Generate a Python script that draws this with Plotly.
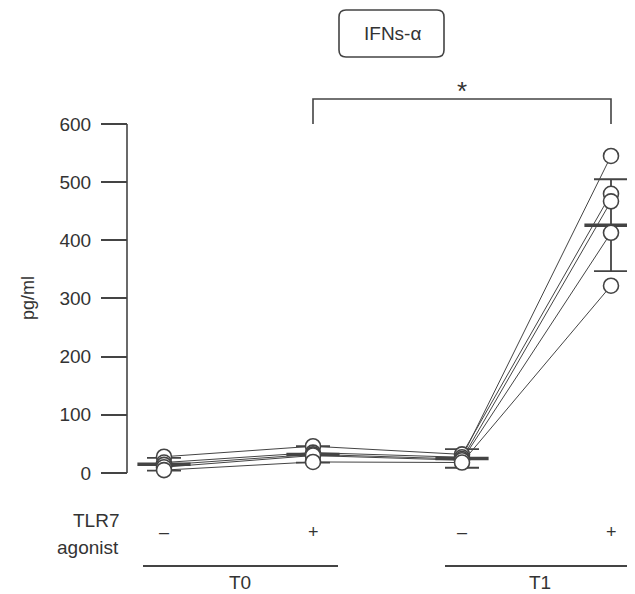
import plotly.graph_objects as go

# ---------------- data ----------------
conditions = ["T0 –", "T0 +", "T1 –", "T1 +"]
x_pos = [0, 1, 2, 3]
donor_1 = [28, 46, 32, 480]
donor_2 = [18, 35, 27, 545]
donor_3 = [14, 32, 24, 467]
donor_4 = [10, 30, 22, 413]
donor_5 = [5, 19, 18, 322]
donors = [donor_1, donor_2, donor_3, donor_4, donor_5]
mean_vals = [15, 32, 25, 426]
sd_vals = [11, 14, 16, 79]
y_ticks = [0, 100, 200, 300, 400, 500, 600]
agonist_signs = ["–", "+", "–", "+"]
time_labels = ["T0", "T1"]
title_text = "IFNs-α"
y_title = "pg/ml"

# ---------------- geometry helpers (page pixels) ----------------
PAGE_W, PAGE_H = 635, 594
OFF = 8                                   # browser body margin
W, H = PAGE_W - OFF, PAGE_H - OFF
X0PX, XSTEP = 164.0 - OFF, 149.0          # figure pixel of x=0, px per category
Y0PX, YSCALE = 473.0 - OFF, 0.5817        # figure pixel of y=0, px per unit

def px(xp):  # page pixel x -> paper
    return (xp - OFF) / W

def py(yp):  # page pixel y -> paper
    return (H - (yp - OFF)) / H

INK = "#444444"
TXT = "#333333"
FONT = "Liberation Sans, Arial, Helvetica, sans-serif"
FS = 19

fig = go.Figure()

# donor lines
for d in donors:
    fig.add_trace(go.Scatter(x=x_pos, y=d, mode="lines",
                             line=dict(color=INK, width=1),
                             hoverinfo="skip", showlegend=False))

# SD error bars
fig.add_trace(go.Scatter(x=x_pos, y=mean_vals, mode="markers",
                         marker=dict(size=1, opacity=0),
                         error_y=dict(type="data", array=sd_vals, visible=True,
                                      color=INK, thickness=1.8, width=17),
                         hoverinfo="skip", showlegend=False))

# mean bars
fig.add_trace(go.Scatter(x=x_pos, y=mean_vals, mode="markers",
                         marker=dict(symbol="line-ew", size=38,
                                     line=dict(color=INK, width=3.5)),
                         hoverinfo="skip", showlegend=False))

# donor points
xs, ys = [], []
for d in donors:
    xs += x_pos
    ys += d
fig.add_trace(go.Scatter(x=xs, y=ys, mode="markers",
                         marker=dict(symbol="circle", size=15, color="white",
                                     line=dict(color=INK, width=1.6)),
                         cliponaxis=False, hoverinfo="skip", showlegend=False))

shapes = []
annotations = []


def label(x, y, text, size=FS, xref="paper", xanchor="center", angle=0):
    annotations.append(dict(xref=xref, yref="paper", x=x, y=y, text=text,
                            xanchor=xanchor, yanchor="middle",
                            textangle=angle, showarrow=False,
                            font=dict(size=size, color=TXT, family=FONT)))


# y axis line (0..600)
shapes.append(dict(type="line", xref="paper", yref="y",
                   x0=px(127), x1=px(127), y0=y_ticks[0], y1=y_ticks[-1],
                   line=dict(color=INK, width=1.6)))

# title box with rounded corners
bx0, bx1, by0, by1, r = 339, 444, 10, 57, 7
path = (f"M {px(bx0+r)},{py(by0)} L {px(bx1-r)},{py(by0)} "
        f"Q {px(bx1)},{py(by0)} {px(bx1)},{py(by0+r)} "
        f"L {px(bx1)},{py(by1-r)} Q {px(bx1)},{py(by1)} {px(bx1-r)},{py(by1)} "
        f"L {px(bx0+r)},{py(by1)} Q {px(bx0)},{py(by1)} {px(bx0)},{py(by1-r)} "
        f"L {px(bx0)},{py(by0+r)} Q {px(bx0)},{py(by0)} {px(bx0+r)},{py(by0)} Z")
shapes.append(dict(type="path", xref="paper", yref="paper", path=path,
                   line=dict(color=INK, width=1.6)))
label(px(392), py(34), title_text)

# significance bracket
brk = (f"M {px(313)},{py(124)} L {px(313)},{py(99)} "
       f"L {px(611)},{py(99)} L {px(611)},{py(124)}")
shapes.append(dict(type="path", xref="paper", yref="paper", path=brk,
                   line=dict(color=INK, width=1.6)))
label(px(462), py(91), "*", size=26)

# y title
label(px(28), py(298), y_title, size=18, angle=-90)

# agonist row
label(px(121), py(520), "TLR7", xanchor="right")
label(px(121), py(547), "agonist", xanchor="right")
for xv, s in zip(x_pos, agonist_signs):
    label(xv, py(532), s, size=18, xref="x")

# time group lines + labels
shapes.append(dict(type="line", xref="paper", yref="paper",
                   x0=px(143), x1=px(338), y0=py(566), y1=py(566),
                   line=dict(color=INK, width=2)))
shapes.append(dict(type="line", xref="paper", yref="paper",
                   x0=px(445), x1=px(635), y0=py(566), y1=py(566),
                   line=dict(color=INK, width=2)))
label(px(240), py(582), time_labels[0])
label(px(540), py(582), time_labels[1])

fig.update_layout(
    width=W, height=H, autosize=False,
    margin=dict(l=0, r=0, t=0, b=0, pad=0),
    paper_bgcolor="white", plot_bgcolor="white",
    font=dict(family=FONT, color=TXT, size=FS),
    xaxis=dict(visible=False, range=[-X0PX / XSTEP, (W - X0PX) / XSTEP],
               fixedrange=True),
    yaxis=dict(range=[(Y0PX - H) / YSCALE, Y0PX / YSCALE],
               anchor="free", position=(127 - OFF) / W, side="left",
               showline=False, showgrid=False, zeroline=False,
               tickvals=y_ticks, ticks="outside", ticklen=26,
               tickwidth=1.6, tickcolor=INK, ticklabelstandoff=6,
               tickfont=dict(size=FS, color=TXT, family=FONT),
               fixedrange=True),
    shapes=shapes, annotations=annotations,
    showlegend=False,
)

fig.write_html("out.html")
